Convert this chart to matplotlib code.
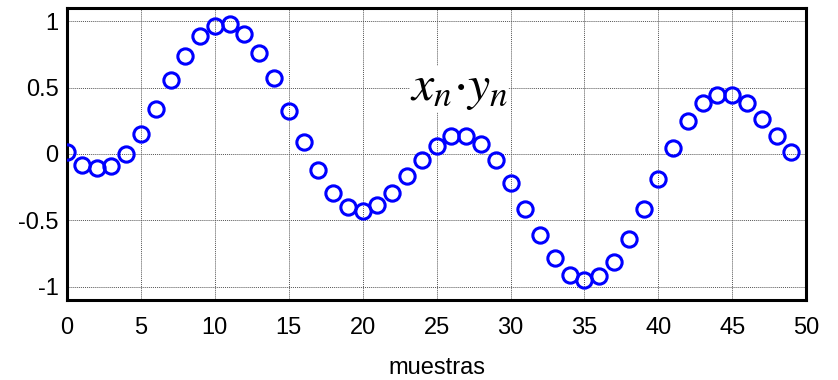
import matplotlib
matplotlib.use('Agg')
import matplotlib.pyplot as plt
import numpy as np

plt.rcParams['font.family'] = ['Liberation Sans', 'DejaVu Sans']
plt.rcParams['mathtext.fontset'] = 'stix'

# product x[n]*y[n]
n = np.arange(50)
xy = [0.015, -0.08, -0.108, -0.09, 0.0, 0.153, 0.338, 0.554, 0.739, 0.892,
      0.967, 0.982, 0.905, 0.764, 0.569, 0.323, 0.093, -0.123, -0.291, -0.401,
      -0.431, -0.381, -0.293, -0.168, -0.048, 0.063, 0.138, 0.138, 0.075, -0.048,
      -0.216, -0.416, -0.614, -0.784, -0.91, -0.952, -0.922, -0.815, -0.644, -0.416,
      -0.188, 0.045, 0.246, 0.383, 0.444, 0.444, 0.383, 0.263, 0.138, 0.013]

xticks = np.arange(0, 51, 5)
yticks = [-1, -0.5, 0, 0.5, 1]
ytick_labels = ['-1', '-0.5', '0', '0.5', '1']

figure = plt.figure(figsize=(8.38, 3.8), dpi=100)
ax = figure.add_axes([0.080, 0.2105, 0.882, 0.7685])

ax.plot(n, xy, 'o', markerfacecolor='none', markeredgecolor='blue',
        markersize=11, markeredgewidth=2.2, zorder=3)

ax.set_xlim(0, 50)
ax.set_ylim(-1.1, 1.1)
ax.set_xticks(xticks)
ax.set_yticks(yticks)
ax.set_yticklabels(ytick_labels)
ax.tick_params(axis='both', labelsize=17, length=0)
ax.tick_params(axis='x', pad=12)
ax.tick_params(axis='y', pad=6)
ax.grid(True, linestyle=(0, (1, 1)), color='#555555', linewidth=0.7)
for s in ax.spines.values():
    s.set_linewidth(2.2)

ax.text(26.5, 0.49, r'$x_n{\cdot}y_n$', fontsize=36, ha='center', va='center',
        bbox=dict(facecolor='white', edgecolor='none', pad=0), zorder=2)

ax.set_xlabel('muestras', fontsize=17, labelpad=13)

plt.savefig('out.png', dpi=100)
